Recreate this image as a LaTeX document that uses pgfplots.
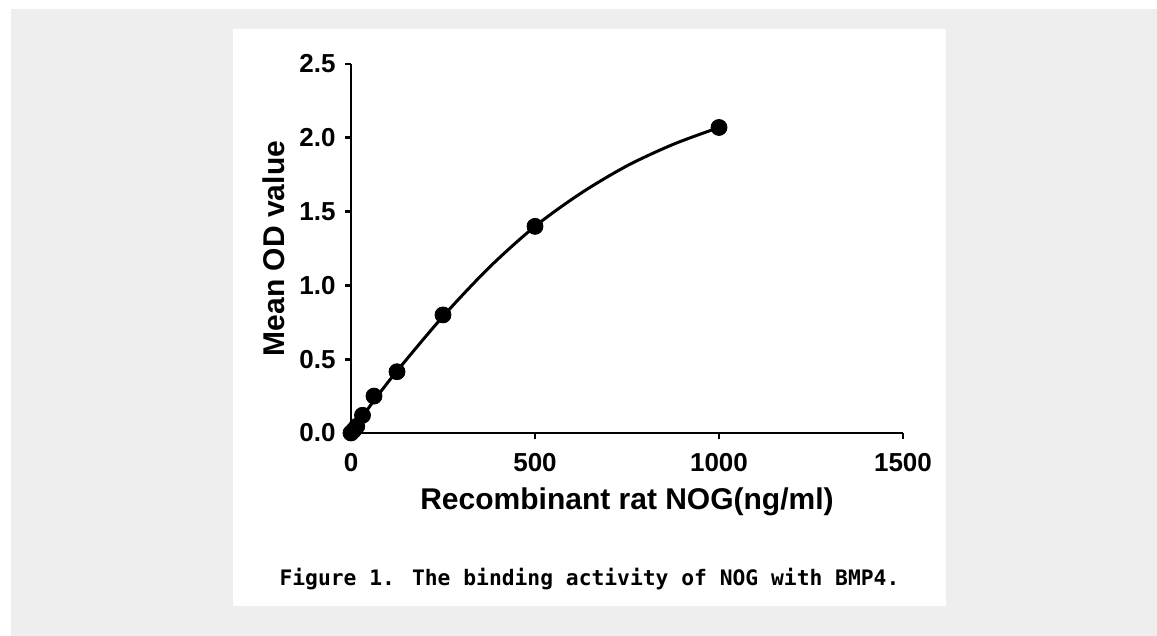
\documentclass[border=0pt]{standalone}
\usepackage{fontspec}
\setmainfont{Liberation Sans}
\newfontfamily\capfont{DejaVu Sans Mono}
\usepackage{pgfplots}
\pgfplotsset{compat=1.18}
\definecolor{bggray}{HTML}{EEEEEE}
\begin{document}
\begin{tikzpicture}
\fill[white] (0,0) rectangle (578.5pt,318pt);
\fill[bggray] (5.5pt,0pt) rectangle (578.5pt,313.5pt);
\fill[white] (116.5pt,15pt) rectangle (473pt,303.5pt);
\begin{axis}[
  at={(175.5pt,101.5pt)}, anchor=south west,
  scale only axis, width=276pt, height=184.5pt,
  xmin=0, xmax=1500, ymin=0, ymax=2.5,
  axis lines=left,
  axis line style={-, line width=1.4pt, black},
  xtick={0,500,1000,1500}, xticklabels={0,500,1000,1500},
  ytick={0,0.5,1,1.5,2,2.5}, yticklabels={0.0,0.5,1.0,1.5,2.0,2.5},
  tick align=outside, major tick length=3pt,
  tick style={line width=1.4pt, black},
  ticklabel style={font=\fontsize{13}{15}\selectfont\bfseries},
  yticklabel style={anchor=east, inner sep=0pt, xshift=-4.5pt},
  xticklabel style={anchor=north, inner sep=0pt, yshift=-7pt},
  xlabel={Recombinant rat NOG(ng/ml)},
  ylabel={Mean OD value},
  label style={font=\fontsize{15}{18}\selectfont\bfseries},
  xlabel style={at={(axis description cs:0.5,-0.206)}, anchor=base},
  ylabel style={at={(axis description cs:-0.120,0.5)}, anchor=base},
  clip=false,
]
% fitted curve
\addplot[smooth, line width=1.5pt, black, no marks] coordinates {
  (0,0) (31.25,0.11) (62.5,0.22) (125,0.42) (250,0.79) (375,1.12) (500,1.40) (625,1.625) (750,1.81) (875,1.955) (1000,2.07)
};
\addplot[only marks, mark=*, mark size=4pt, black] coordinates {
  (0,0) (7.8125,0.02) (15.625,0.045) (31.25,0.12) (62.5,0.25) (125,0.415) (250,0.80) (500,1.40) (1000,2.07)
};
\end{axis}
\node[anchor=base, inner sep=0pt, font={\capfont\bfseries\fontsize{10.65}{12}\selectfont}] at (294.75pt,25pt) {Figure 1. The binding activity of NOG with BMP4.};
\end{tikzpicture}
\end{document}
